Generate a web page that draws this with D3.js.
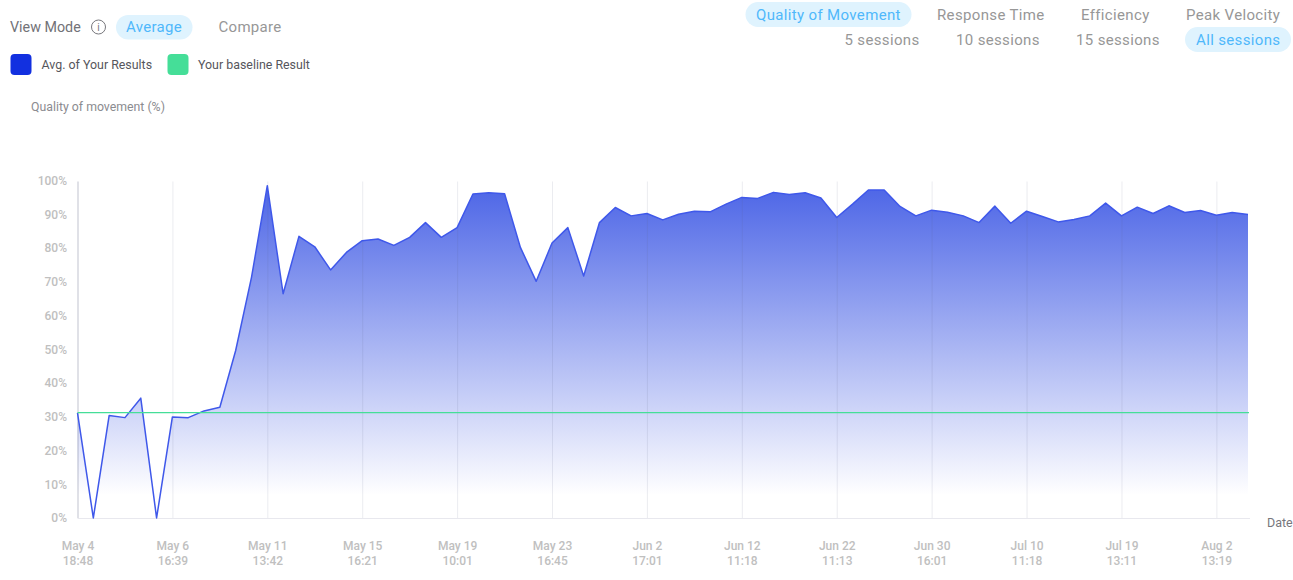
<!DOCTYPE html>
<html><head><meta charset="utf-8">
<script src="https://cdn.jsdelivr.net/npm/d3@7"></script>
<style>
html,body{margin:0;padding:0;background:#fff;overflow:hidden}
svg{display:block}
text{font-family:Roboto,sans-serif}
.tick text{font-family:Roboto,sans-serif;font-weight:500;font-size:12px;fill:#c0c0c0}
</style></head><body>
<svg id="c" width="1293" height="580"></svg>
<script>
const qualityValues=[31.3,0,30.5,29.9,35.7,0,30.1,29.9,31.9,33,49.9,71.7,99,66.8,83.9,80.8,73.9,79.1,82.6,83.1,81.2,83.6,88,83.6,86.5,96.5,96.9,96.6,80.6,70.5,81.9,86.5,72.1,88,92.5,90,90.7,88.8,90.5,91.4,91.2,93.5,95.5,95.2,97,96.4,96.9,95.3,89.5,93.5,97.7,97.7,92.8,90,91.7,91.1,90,88,92.9,87.8,91.4,89.8,88.2,88.9,90,93.8,90,92.6,90.7,93,91,91.6,90.2,91,90.4];
const baselineValue=31.4;
const xTickLabels=[["May 4","18:48"],["May 6","16:39"],["May 11","13:42"],["May 15","16:21"],["May 19","10:01"],["May 23","16:45"],["Jun 2","17:01"],["Jun 12","11:18"],["Jun 22","11:13"],["Jun 30","16:01"],["Jul 10","11:18"],["Jul 19","13:11"],["Aug 2","13:19"]];
const xTickStep=6;
const yTicks=[0,10,20,30,40,50,60,70,80,90,100];
const metricTabs=["Quality of Movement","Response Time","Efficiency","Peak Velocity"];
const sessionTabs=["5 sessions","10 sessions","15 sessions","All sessions"];

const svg=d3.select("#c");
const L=77.5,R=1248,T=181.5,B=518;
const x=d3.scaleLinear().domain([0,qualityValues.length-1]).range([L,R]);
const y=d3.scaleLinear().domain([0,100]).range([B,T+0.8]);
const yLabels=y.copy().range([B,T-1]);

const defs=svg.append("defs");
const g=defs.append("linearGradient").attr("id","fade").attr("gradientUnits","userSpaceOnUse")
  .attr("x1",0).attr("x2",0).attr("y1",T).attr("y2",495);
g.append("stop").attr("offset",0).attr("stop-color","#4a63e6");
g.append("stop").attr("offset",1).attr("stop-color","#4a63e6").attr("stop-opacity",0);

// area + line
svg.append("path").datum(qualityValues)
  .attr("d",d3.area().x((d,i)=>x(i)).y0(B).y1(d=>y(d)))
  .attr("fill","url(#fade)");

// axes / grid
const tickIdx=xTickLabels.map((d,i)=>i*xTickStep);
const xAxis=svg.append("g").attr("transform",`translate(0,${B})`)
  .call(d3.axisBottom(x).tickValues(tickIdx).tickSize(-(B-T)).tickPadding(0).tickFormat(""));
xAxis.select(".domain").attr("stroke","#e8e8ee").attr("d",`M${L},0.5H1250`);
xAxis.selectAll(".tick line").attr("stroke","#5a6080").attr("stroke-opacity",d=>d===0?0.38:0.12);
xAxis.selectAll(".tick").each(function(d,i){
  const t=d3.select(this).select("text").attr("y",null).attr("dy",null).text(null);
  xTickLabels[i].forEach((s,k)=>t.append("tspan").attr("x",0).attr("y",32+k*15).text(s));
});
const yAxis=svg.append("g").attr("transform",`translate(${L},0)`)
  .call(d3.axisLeft(yLabels).tickValues(yTicks).tickSize(0).tickPadding(10.5).tickFormat(d=>d+"%"));
yAxis.select(".domain").remove();

svg.append("path").datum(qualityValues)
  .attr("d",d3.line().x((d,i)=>x(i)).y(d=>y(d)))
  .attr("fill","none").attr("stroke","#3f58ea").attr("stroke-width",1.5).attr("stroke-linejoin","round");

svg.append("line").attr("x1",L).attr("x2",1249).attr("y1",y(baselineValue)).attr("y2",y(baselineValue))
  .attr("stroke","#45de98").attr("stroke-width",1.4);

// header
function label(s,px,py,size,fill,anchor,ls){
  return svg.append("text").attr("x",px).attr("y",py).attr("font-size",size).attr("fill",fill)
    .attr("text-anchor",anchor||"start").attr("letter-spacing",ls||0).text(s);
}
function pill(a,b,t,h){svg.append("rect").attr("x",a).attr("y",t).attr("width",b-a).attr("height",h).attr("rx",h/2).attr("fill","#dff3fe");}
const blue="#4fb8fb",gray="#979797";
label("View Mode",10,32,14.3,"#727277");
svg.append("circle").attr("cx",98.5).attr("cy",27).attr("r",7).attr("fill","none").attr("stroke","#77777c").attr("stroke-width",1);
label("i",98.5,31,10,"#77777c","middle");
pill(116,192.5,15,24.5);
label("Average",126,32,15,blue,"start",0.3);
label("Compare",218.5,32,15,gray,"start",0.3);
svg.append("rect").attr("x",10.5).attr("y",54).attr("width",21).attr("height",21).attr("rx",4).attr("fill","#1230e0");
label("Avg. of Your Results",41.5,69,12.4,"#56565c");
svg.append("rect").attr("x",167.5).attr("y",54).attr("width",21).attr("height",21).attr("rx",4).attr("fill","#45de98");
label("Your baseline Result",198,69,12.4,"#56565c");
label("Quality of movement (%)",31,111,12.3,"#8b8b90");
label("Date",1267,527,12.5,"#77777c");

pill(745.5,911.5,2,25);
pill(1185,1291,27,25);
const metricX=[756,937,1081,1186], sessionX=[844.5,956,1076,1196];
metricTabs.forEach((s,i)=>label(s,metricX[i],19.5,15,i===0?blue:gray,"start",0.35));
sessionTabs.forEach((s,i)=>label(s,sessionX[i],44.5,15,i===3?blue:gray,"start",0.35));
</script></body></html>
